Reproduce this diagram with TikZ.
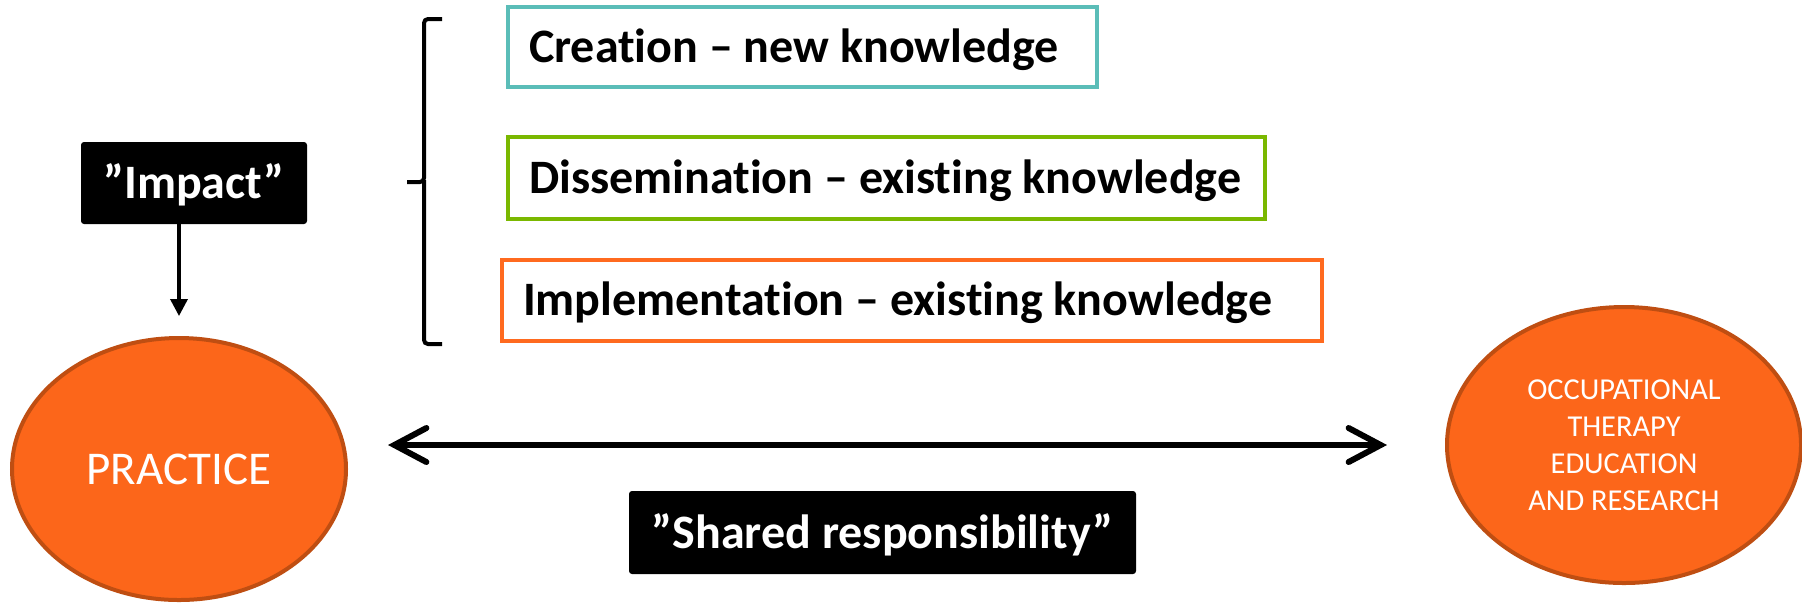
\documentclass[tikz,border=0pt]{standalone}
\usepackage{fontspec}
\setmainfont{Carlito}[Ligatures={NoCommon,NoContextual}]
\usetikzlibrary{arrows.meta,shapes.geometric,calc}
\definecolor{tealb}{HTML}{5BBDB8}
\definecolor{greenb}{HTML}{7AB800}
\definecolor{orangeb}{HTML}{FF6A1F}
\definecolor{ellfill}{HTML}{FC661A}
\definecolor{elldraw}{HTML}{BF4E12}
\newcommand{\lefttext}[2]{\makebox[#1][l]{#2}}
\begin{document}
\begin{tikzpicture}[x=0.5pt,y=-0.5pt,
  kbox/.style={draw, line width=2pt, inner xsep=10.5pt, inner ysep=0pt,
    text height=15pt, text depth=0pt, font=\fontsize{24}{28}\selectfont\bfseries},
  blackbox/.style={fill=black, text=white, rounded corners=1.5pt, inner sep=0pt,
    text height=15.5pt, text depth=0pt, font=\fontsize{24}{28}\selectfont\bfseries},
  oval/.style={ellipse, fill=ellfill, draw=elldraw, line width=2pt, text=white, inner sep=0pt},
  impactarrow/.style={line width=1.75pt, -{Triangle[length=8.5pt,width=8.5pt]}},
  sharedarrow/.style={line width=3pt, line cap=round,
    {Straight Barb[length=16pt,width=17pt,line cap=round]}-{Straight Barb[length=16pt,width=17pt,line cap=round]}},
  bracestyle/.style={line width=2pt, rounded corners=2pt}
]
\useasboundingbox (0,0) rectangle (1802,602);

% knowledge boxes
\node[kbox, draw=tealb, minimum height=40pt] (creation) at (802.5,47)
  {\lefttext{273.5pt}{Creation – new knowledge}};
\node[kbox, draw=greenb, minimum height=41pt] (dissemination) at (886.5,178)
  {\lefttext{357.5pt}{Dissemination – existing knowledge}};
\node[kbox, draw=orangeb, minimum height=40.5pt] (implementation) at (912,300.5)
  {\lefttext{389pt}{Implementation – existing knowledge}};

% brace
\draw[bracestyle] (442,19) -- (424,19) -- (424,182) -- (407,182);
\draw[bracestyle] (424,180) -- (424,344) -- (442,344);

% impact
\node[blackbox, minimum width=113pt, minimum height=41pt] (impact) at (194,183) {”Impact”};

% ellipses
\node[oval, minimum width=167pt, minimum height=131pt,
  font=\fontsize{23.5}{28}\selectfont] (practice) at (179,469) {PRACTICE};
\node[oval, minimum width=177pt, minimum height=138pt, align=center,
  font=\fontsize{15.2}{18.5}\selectfont] (ot) at (1624,445)
  {OCCUPATIONAL\\THERAPY\\EDUCATION\\AND RESEARCH};

% shared responsibility
\node[blackbox, minimum width=253.5pt, minimum height=41.5pt] (shared) at (882.5,532.5)
  {”Shared responsibility”};

% connectors
\draw[impactarrow] (impact.south -| practice.north) -- ([yshift=10pt]practice.north);
\draw[sharedarrow] ($(practice.east |- ot.west)+(20pt,0)$) -- ($(ot.west)+(-29pt,0)$);
\end{tikzpicture}
\end{document}
